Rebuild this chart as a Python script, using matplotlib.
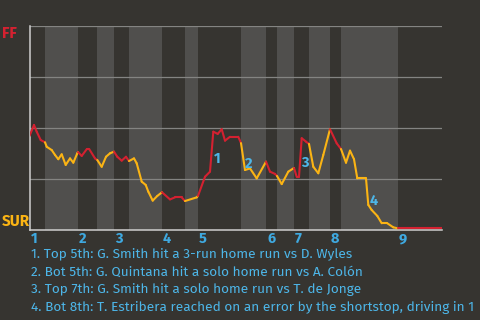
import matplotlib
matplotlib.use('Agg')
import matplotlib.pyplot as plt
from matplotlib import font_manager

# win probability for FF (percent) vs. game progress
x = [0, 4.5, 7.2, 11.2, 15.5, 17.2, 22.2, 25.5, 28.8, 32.2,
     36.2, 40.5, 43.8, 47.8, 48.5, 52.2, 57.2, 59.8, 65.5, 67.8,
     72.2, 76.5, 80.5, 84.5, 87.8, 92.2, 96.5, 99.5, 104.5, 107.2,
     112.2, 116.2, 118.8, 123.2, 127.8, 132.5, 140.5, 145.5, 152.2, 155.5,
     167.2, 168.5, 175.5, 180.5, 183.8, 188.2, 192.2, 195.5, 200.5, 208.8,
     211.5, 215.5, 220.5, 227.2, 236.5, 240.5, 245.5, 247.5, 252.2, 258.8,
     264.5, 267.2, 269.5, 272.2, 276.5, 279.5, 283.8, 288.8, 293.8, 300.5,
     307.2, 311.5, 316.5, 320.5, 324.5, 327.8, 336.5, 338.8, 342.2, 347.8,
     352.2, 357.8, 363.8, 368.5, 412.5]
wp = [46.1, 51.5, 48.2, 44.1, 43.0, 40.8, 39.2, 36.8, 34.7, 37.1,
      31.9, 35.1, 33.0, 37.6, 38.2, 36.3, 39.6, 39.6, 35.1, 34.3,
      31.0, 35.9, 37.6, 38.4, 35.9, 34.0, 35.9, 33.8, 35.1, 32.7,
      23.7, 22.1, 18.8, 14.4, 16.7, 18.5, 15.0, 16.0, 16.0, 14.2,
      16.0, 16.7, 26.1, 28.6, 48.2, 47.1, 49.4, 43.8, 45.7, 45.7,
      42.6, 29.4, 30.2, 25.3, 33.5, 28.6, 27.5, 26.5, 22.5, 28.6,
      30.4, 26.1, 26.1, 45.0, 43.3, 42.2, 31.0, 27.8, 36.8, 49.4,
      42.5, 39.7, 33.0, 38.9, 34.7, 25.3, 25.3, 12.3, 9.8, 6.9,
      3.3, 3.3, 1.3, 0.8, 0.8]

# half-inning start positions (top 1st, bot 1st, top 2nd, ...)
half_starts = [0, 15.5, 48.5, 67.5, 84.5, 99.5, 132.5, 155.5, 168.5, 211.5,
               236.5, 247.5, 264.5, 279.5, 300.5, 311.5, 368.5]
x_end = 412.5
inning_labels = ['1', '2', '3', '4', '5', '6', '7', '8', '9']

# key plays
play_x = [187.5, 219.5, 275.5, 344.5]
play_y = [34.8, 32.4, 32.8, 14.2]
play_labels = ['1', '2', '3', '4']
play_text = [
    '1. Top 5th: G. Smith hit a 3-run home run vs D. Wyles',
    '2. Bot 5th: G. Quintana hit a solo home run vs A. Colón',
    '3. Top 7th: G. Smith hit a solo home run vs T. de Jonge',
    '4. Bot 8th: T. Estribera reached on an error by the shortstop, driving in 1',
]

bg = '#363430'
band = '#504f4d'
red = '#d42130'
yellow = '#fbb414'
blue = '#4db6e8'

# pick a narrow face if there is one
names = set(f.name for f in font_manager.fontManager.ttflist)
fam = ['DejaVu Sans']
for cand in ['Fira Sans', 'Liberation Sans Narrow', 'Roboto Condensed', 'Open Sans Condensed']:
    if cand in names:
        fam = [cand, 'DejaVu Sans']
        break

fig = plt.figure(figsize=(4.8, 3.2), dpi=100, facecolor=bg)
ax = fig.add_axes([29.5 / 480, 90 / 320, 412.5 / 480, 204 / 320])
ax.set_facecolor(bg)

# shade bottom halves
for i in range(1, len(half_starts), 2):
    end = half_starts[i + 1] if i + 1 < len(half_starts) else x_end
    ax.axvspan(half_starts[i], end, color=band, lw=0, zorder=0)

for g in [25, 50, 75, 100]:
    ax.axhline(g, color='#848482', lw=0.9, zorder=1)

# line, coloured by which half-inning it is in
for i in range(len(x) - 1):
    k = sum(1 for s in half_starts if s <= x[i]) - 1
    c = red if k % 2 == 0 else yellow
    ax.plot(x[i:i + 2], wp[i:i + 2], color=c, lw=1.5, solid_capstyle='round', zorder=3)

ax.set_xlim(0, x_end)
ax.set_ylim(0, 100)
for s in ['top', 'right']:
    ax.spines[s].set_visible(False)
for s in ['left', 'bottom']:
    ax.spines[s].set_color('#cfcfcf')
    ax.spines[s].set_linewidth(1.1)
ax.set_xticks([])
ax.set_yticks([])

for j, lab in enumerate(inning_labels):
    ax.text(half_starts[2 * j] + 1, -0.045, lab, transform=ax.get_xaxis_transform(),
            ha='left', va='center', color='#3fa9e0', fontsize=10.5, fontweight='bold',
            family=fam)

for px, py, lab in zip(play_x, play_y, play_labels):
    ax.text(px, py, lab, ha='center', va='center', color=blue, fontsize=10.5,
            fontweight='bold', family=fam, zorder=4)

fig.text(2 / 480, 1 - 33 / 320, 'FF', color=red, fontsize=11, fontweight='bold',
         ha='left', va='center', family=fam)
fig.text(2 / 480, 1 - 221 / 320, 'SUR', color=yellow, fontsize=11, fontweight='bold',
         ha='left', va='center', family=fam)

notes = []
for j, t in enumerate(play_text):
    notes.append(fig.text(31 / 480, 1 - (254 + 17.7 * j) / 320, t, color=blue,
                          fontsize=10, ha='left', va='center', family=fam))

# size the notes so the longest one ends where it does in the reference
fig.canvas.draw()
r = fig.canvas.get_renderer()
w = max(n.get_window_extent(r).width for n in notes)
scale = 442 / w
for n in notes:
    n.set_fontsize(10 * scale)

fig.savefig('out.png', dpi=100, facecolor=bg)
